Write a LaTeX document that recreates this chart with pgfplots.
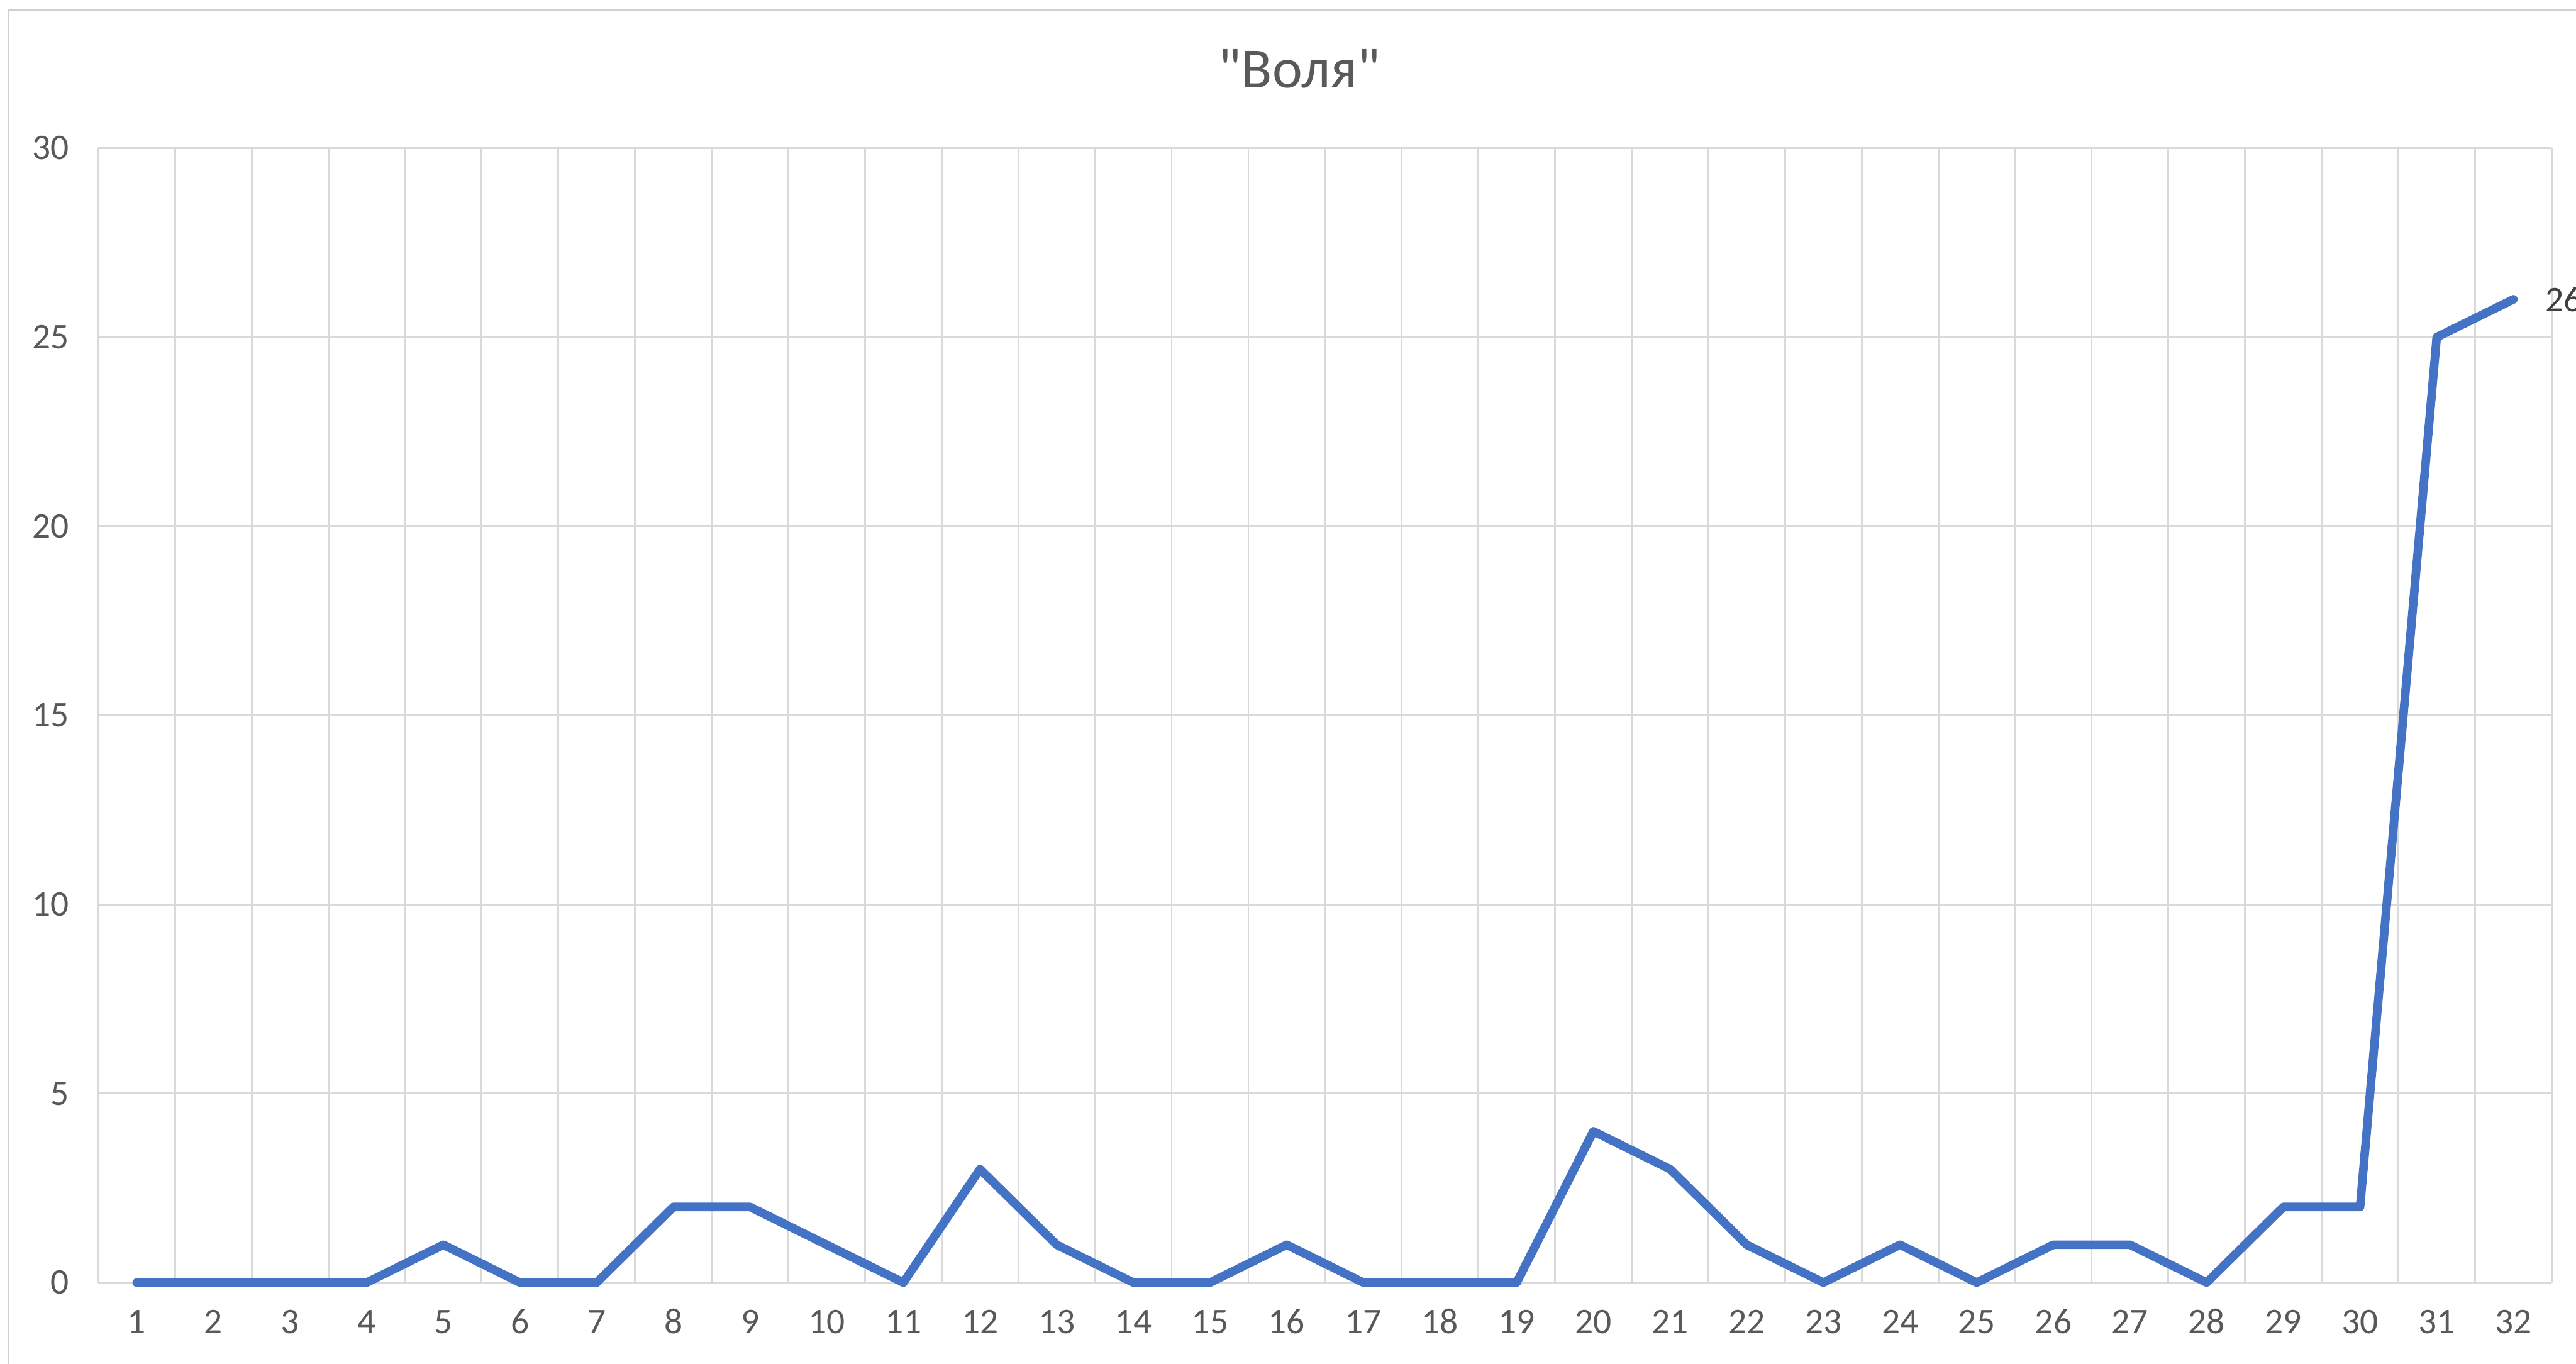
\documentclass[border=0pt]{standalone}
\usepackage{fontspec}
\setmainfont{Carlito}
\newfontfamily\titlefont{Carlito}
\usepackage{pgfplots}
\pgfplotsset{compat=1.18}
\definecolor{linec}{HTML}{4472C4}
\definecolor{gridc}{HTML}{D9D9D9}
\definecolor{txt}{HTML}{595959}
\definecolor{lbl}{HTML}{404040}
\definecolor{frame}{HTML}{D0D0D0}
\begin{document}
\begin{tikzpicture}
\begin{axis}[
  at={(16.6bp,13.7bp)}, anchor=south west,
  width=414.1bp, height=191.5bp, scale only axis,
  xmin=0.5, xmax=32.5, ymin=0, ymax=30,
  xtick={1,...,32},
  ytick={0,5,...,30},
  minor xtick={0.5,1.5,...,32.5},
  xminorgrids=true, ymajorgrids=true, xmajorgrids=false,
  grid style={draw=gridc, line width=0.3bp},
  minor grid style={draw=gridc, line width=0.3bp},
  major tick length=0pt, minor tick length=0pt,
  axis line style={draw=none},
  /pgf/number format/assume math mode=true,
  tick label style={font=\fontsize{6.1bp}{7bp}\selectfont, text=txt},
  xticklabel style={anchor=base, yshift=-8.6bp},
  yticklabel style={anchor=east, xshift=-1.4bp},
  clip=false,
]
\addplot[color=linec, line width=1.45bp, line join=round, line cap=round, mark=none] coordinates {
(1,0) (2,0) (3,0) (4,0) (5,1) (6,0) (7,0) (8,2) (9,2) (10,1)
(11,0) (12,3) (13,1) (14,0) (15,0) (16,1) (17,0) (18,0) (19,0) (20,4)
(21,3) (22,1) (23,0) (24,1) (25,0) (26,1) (27,1) (28,0) (29,2) (30,2)
(31,25) (32,26)
};
\node[anchor=west, xshift=5.2bp, font=\fontsize{6.1bp}{7bp}\selectfont, text=lbl, inner sep=0pt] at (axis cs:32,26) {26};
\end{axis}
\draw[frame, line width=0.35bp] (1.4bp,0) -- (1.4bp,228.5bp) -- (434.8bp,228.5bp);
\node[font=\titlefont\fontsize{9.6bp}{11bp}\selectfont, text=txt] at (219.3bp,218.6bp) {"Воля"};
\pgfresetboundingbox
\useasboundingbox (0,0) rectangle (434.8bp,230.2bp);
\end{tikzpicture}
\end{document}
